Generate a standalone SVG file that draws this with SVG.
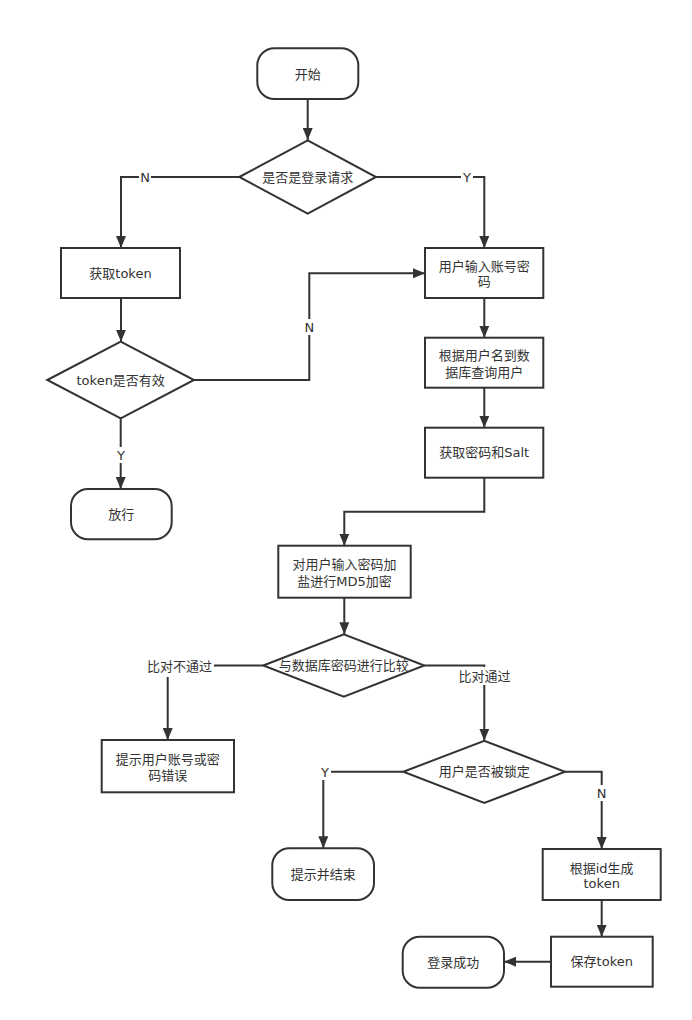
<svg xmlns="http://www.w3.org/2000/svg" width="692" height="1020" viewBox="0 0 692 1020">
<style>
.shape{fill:#fff;stroke:#333;stroke-width:2}
.conn{fill:none;stroke:#333;stroke-width:2}
text{font-family:"DejaVu Sans","Noto Sans CJK SC",sans-serif;font-size:13px;fill:#333;text-anchor:middle;dominant-baseline:central}
.bg{fill:#fff;stroke:none}
</style>
<defs>
<marker id="arr" markerUnits="userSpaceOnUse" markerWidth="12" markerHeight="10" refX="12" refY="5" orient="auto">
<path d="M0,0 L12,5 L0,10 z" fill="#333"/>
</marker>
</defs>
<rect width="692" height="1020" fill="#fff"/>
<g id="connectors">
<path class="conn" d="M307.7,99 V140" marker-end="url(#arr)"/>
<path class="conn" d="M239.3,177 H121 V248" marker-end="url(#arr)"/>
<path class="conn" d="M376,177 H484.3 V248" marker-end="url(#arr)"/>
<path class="conn" d="M121,298 V341.7" marker-end="url(#arr)"/>
<path class="conn" d="M194,380 H309.3 V273.3 H425" marker-end="url(#arr)"/>
<path class="conn" d="M120.7,418.3 V489" marker-end="url(#arr)"/>
<path class="conn" d="M484.3,298 V337.7" marker-end="url(#arr)"/>
<path class="conn" d="M484.3,387.7 V427.7" marker-end="url(#arr)"/>
<path class="conn" d="M484.3,477.7 V511.7 H344.3 V545.7" marker-end="url(#arr)"/>
<path class="conn" d="M344.3,597.7 V634.3" marker-end="url(#arr)"/>
<path class="conn" d="M263.3,665.5 H167.7 V740" marker-end="url(#arr)"/>
<path class="conn" d="M424.3,665.5 H484.3 V740.7" marker-end="url(#arr)"/>
<path class="conn" d="M403.3,771.8 H323.3 V848.3" marker-end="url(#arr)"/>
<path class="conn" d="M565,771.8 H601.7 V849" marker-end="url(#arr)"/>
<path class="conn" d="M601.7,900 V936.7" marker-end="url(#arr)"/>
<path class="conn" d="M551,961.7 H504" marker-end="url(#arr)"/>
<rect class="bg" x="139" y="169" width="12" height="16"/><text x="145" y="177">N</text>
<rect class="bg" x="461" y="169" width="12" height="16"/><text x="467" y="177">Y</text>
<rect class="bg" x="303" y="319" width="12" height="16"/><text x="309.3" y="327">N</text>
<rect class="bg" x="115" y="447" width="12" height="16"/><text x="121" y="455">Y</text>
<rect class="bg" x="145" y="657" width="69" height="20"/><text x="179.5" y="666.5">比对不通过</text>
<rect class="bg" x="457" y="667" width="55" height="18"/><text x="484.5" y="676">比对通过</text>
<rect class="bg" x="319" y="764" width="12" height="16"/><text x="325" y="772">Y</text>
<rect class="bg" x="596" y="785" width="12" height="16"/><text x="601.7" y="793">N</text>
</g>
<g id="start"><rect class="shape" x="257.3" y="48.3" width="101" height="50.7" rx="17"/><text x="307.8" y="74">开始</text></g>
<g id="isLogin"><polygon class="shape" points="239.3,177 307.7,140.3 376,177 307.7,213.7"/><text x="307.7" y="177">是否是登录请求</text></g>
<g id="getToken"><rect class="shape" x="61" y="248" width="119" height="50"/><text x="120.5" y="273">获取token</text></g>
<g id="inputAccount"><rect class="shape" x="425" y="248" width="118.3" height="50"/><text x="484.2" y="273"><tspan x="484.2" y="265.5">用户输入账号密</tspan><tspan x="484.2" y="281">码</tspan></text></g>
<g id="tokenValid"><polygon class="shape" points="47.3,380 120.7,341.7 194,380 120.7,418.3"/><text x="120.7" y="380">token是否有效</text></g>
<g id="pass"><rect class="shape" x="71" y="489" width="100.7" height="50.3" rx="17"/><text x="121.3" y="514">放行</text></g>
<g id="queryUser"><rect class="shape" x="425" y="337.7" width="118.3" height="50"/><text x="484.2" y="362.7"><tspan x="484.2" y="355">根据用户名到数</tspan><tspan x="484.2" y="371.5">据库查询用户</tspan></text></g>
<g id="getSalt"><rect class="shape" x="425" y="427.7" width="118.3" height="50"/><text x="484.2" y="452.7">获取密码和Salt</text></g>
<g id="md5"><rect class="shape" x="278.3" y="545.7" width="132.4" height="52"/><text x="344.5" y="571.7"><tspan x="344.5" y="563.5">对用户输入密码加</tspan><tspan x="344.5" y="580.5">盐进行MD5加密</tspan></text></g>
<g id="compare"><polygon class="shape" points="263.3,665.5 343.8,634.3 424.3,665.5 343.8,696.7"/><text x="343.8" y="665.5">与数据库密码进行比较</text></g>
<g id="wrongPwd"><rect class="shape" x="101.7" y="740" width="132.3" height="52.3"/><text x="167.8" y="766"><tspan x="167.8" y="758.5">提示用户账号或密</tspan><tspan x="167.8" y="775">码错误</tspan></text></g>
<g id="locked"><polygon class="shape" points="403.3,771.8 484.3,740.7 565,771.8 484.3,803"/><text x="484.3" y="771.8">用户是否被锁定</text></g>
<g id="lockEnd"><rect class="shape" x="272.3" y="848.3" width="101.7" height="51.7" rx="17"/><text x="323.2" y="874">提示并结束</text></g>
<g id="genToken"><rect class="shape" x="542.7" y="849" width="118" height="51"/><text x="601.7" y="874.5"><tspan x="601.7" y="867.5">根据id生成</tspan><tspan x="601.7" y="883">token</tspan></text></g>
<g id="saveToken"><rect class="shape" x="551" y="936.7" width="101.7" height="50"/><text x="601.8" y="961.7">保存token</text></g>
<g id="success"><rect class="shape" x="402.7" y="936.7" width="101.3" height="51" rx="17"/><text x="453.3" y="962.2">登录成功</text></g>
</svg>
